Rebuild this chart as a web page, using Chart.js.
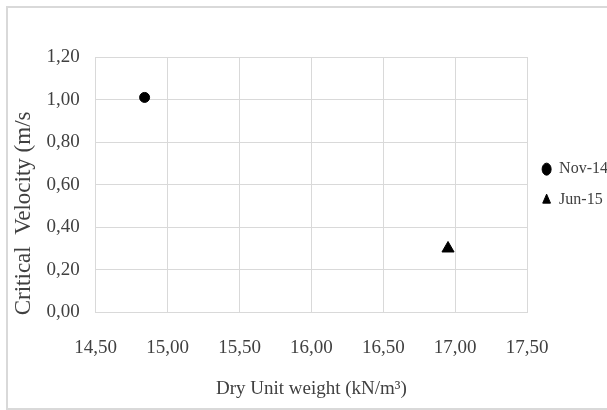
<!DOCTYPE html>
<html>
<head>
<meta charset="utf-8">
<script src="https://cdn.jsdelivr.net/npm/chart.js@4"></script>
<style>
    html, body { margin: 0; padding: 0; background: #ffffff; overflow: hidden; }
    #frame {
        position: absolute; left: 6px; top: 6px; width: 700px; height: 404px;
        box-sizing: border-box; border: 2px solid #d9d9d9;
    }
    #wrap { position: absolute; left: 0; top: 0; width: 625px; height: 410px; }
</style>
</head>
<body>
<div id="frame"></div>
<div id="wrap"><canvas id="scatterChart"></canvas></div>
<script>
// 数据
const seriesNames = ['Nov-14', 'Jun-15'];
const dryUnitWeight = [14.84, 16.95];   // kN/m3
const criticalVelocity = [1.01, 0.30];  // m/s
const markerStyles = ['circle', 'triangle'];
const markerSizes = [5, 7];

const xTicks = { min: 14.5, max: 17.5, step: 0.5 };
const yTicks = { min: 0, max: 1.2, step: 0.2 };

const serif = '"Liberation Serif", "Times New Roman", serif';
const textColor = '#404040';
const gridColor = '#d9d9d9';

function commaFmt(v) {
    return Number(v).toFixed(2).replace('.', ',');
}

const datasets = seriesNames.map((name, i) => ({
    label: name,
    data: [{ x: dryUnitWeight[i], y: criticalVelocity[i] }],
    pointStyle: markerStyles[i],
    pointRadius: markerSizes[i],
    pointHoverRadius: markerSizes[i],
    backgroundColor: '#000000',
    borderColor: '#000000',
    borderWidth: 1
}));

const ctx = document.getElementById('scatterChart').getContext('2d');
new Chart(ctx, {
    type: 'scatter',
    data: { datasets: datasets },
    options: {
        responsive: true,
        maintainAspectRatio: false,
        animation: false,
        layout: { padding: { top: 57, right: 7, bottom: 0, left: 0 } },
        plugins: {
            tooltip: { enabled: false },
            legend: {
                display: true,
                position: 'right',
                align: 'center',
                fullSize: false, // 只占绘图区高度，居中对齐
                labels: {
                    color: textColor,
                    font: { family: serif, size: 16 },
                    usePointStyle: true,
                    pointStyleWidth: 9,
                    boxHeight: 8.5,
                    padding: 15
                }
            }
        },
        scales: {
            x: {
                type: 'linear',
                min: xTicks.min,
                max: xTicks.max,
                afterFit: function(scale) { scale.height = 97.7; },
                grid: { color: gridColor, lineWidth: 1, drawTicks: false },
                border: { color: gridColor },
                ticks: {
                    stepSize: xTicks.step,
                    color: textColor,
                    padding: 24,
                    font: { family: serif, size: 19 },
                    callback: commaFmt
                },
                title: {
                    display: true,
                    text: 'Dry Unit weight (kN/m³)',
                    color: textColor,
                    font: { family: serif, size: 19 },
                    padding: { top: 0, bottom: 9.6 }
                }
            },
            y: {
                type: 'linear',
                min: yTicks.min,
                max: yTicks.max,
                afterFit: function(scale) { scale.width = 95.7; },
                grid: { color: gridColor, lineWidth: 1, drawTicks: false },
                border: { color: gridColor },
                ticks: {
                    stepSize: yTicks.step,
                    color: textColor,
                    padding: 16,
                    font: { family: serif, size: 19 },
                    callback: commaFmt
                },
                title: {
                    display: true,
                    // trailing spaces push the text down like the original
                    text: 'Critical  Velocity (m/s          ',
                    color: textColor,
                    font: { family: serif, size: 23 },
                    padding: { top: 10.2, bottom: 0 }
                }
            }
        }
    }
});
</script>
</body>
</html>
